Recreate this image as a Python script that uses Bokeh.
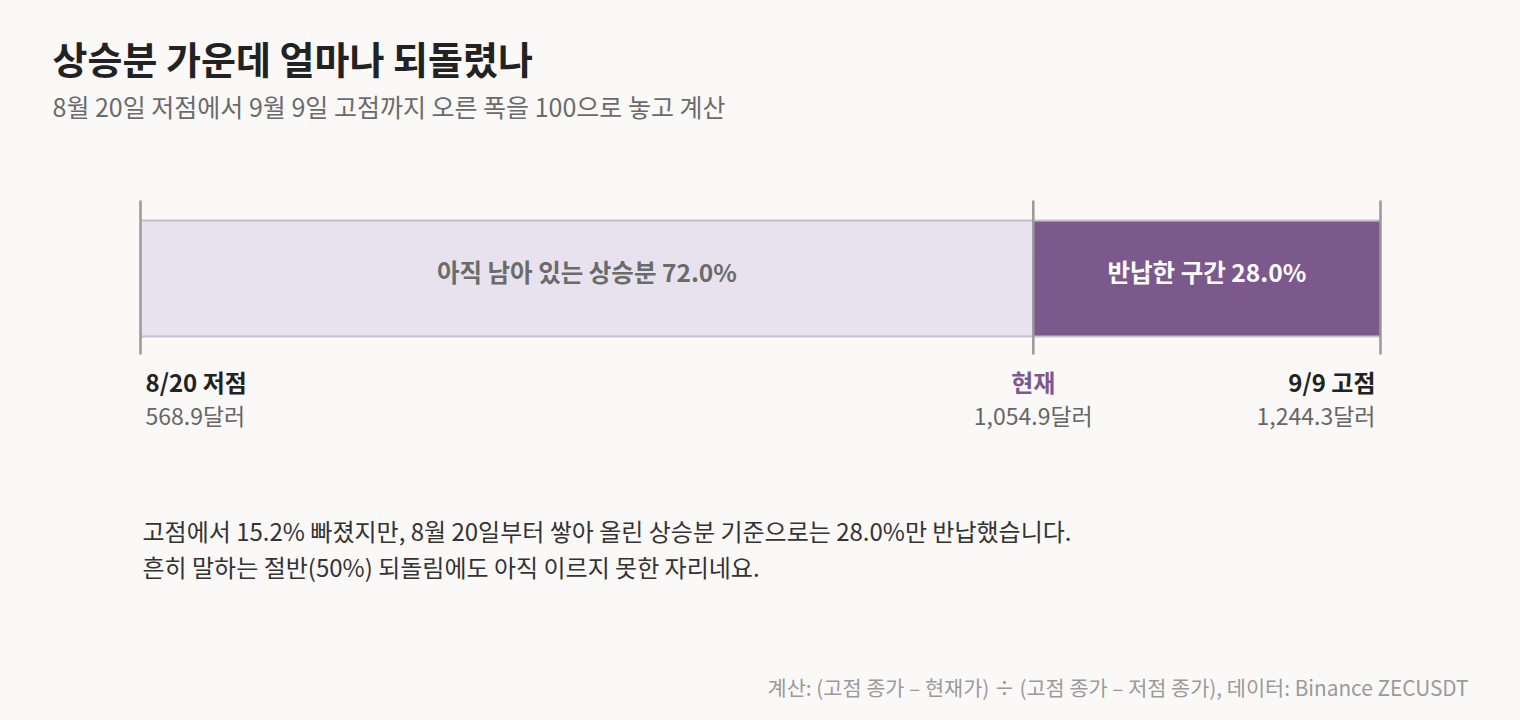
from bokeh.plotting import figure
from bokeh.models import Range1d, Label, ColumnDataSource
from bokeh.core.properties import value
from bokeh.embed import file_html
from bokeh.resources import INLINE

# ---- data ----
point_names = ["8/20 저점", "현재", "9/9 고점"]
point_prices = [568.9, 1054.9, 1244.3]
title_text = "상승분 가운데 얼마나 되돌렸나"
subtitle_text = "8월 20일 저점에서 9월 9일 고점까지 오른 폭을 100으로 놓고 계산"
footer_text = "계산: (고점 종가 – 현재가) ÷ (고점 종가 – 저점 종가), 데이터: Binance ZECUSDT"

low, cur, high = point_prices
retraced = round((high - cur) / (high - low) * 100, 1)
remaining = round(100 - retraced, 1)
drop_from_high = round((high - cur) / high * 100, 1)
segment_names = ["아직 남아 있는 상승분", "반납한 구간"]
segment_left = [0, remaining]
segment_right = [remaining, 100]
point_pos = [0, remaining, 100]

FONT = "Noto Sans CJK KR"
BG = "#faf9f7"
PURPLE = "#7c598d"
LIGHT = "#e7e2ed"

W, H = 1520, 720
# x: 0..100 maps to page px 140..1380 ; y: page px (flipped)
scale = 12.4
x0 = -140 / scale
p = figure(width=W, height=H, output_backend="svg", toolbar_location=None,
           x_range=Range1d(x0, x0 + W / scale), y_range=Range1d(H, 0),
           x_axis_type=None, y_axis_type=None, min_border=0)
p.grid.visible = False
p.outline_line_color = None
p.background_fill_color = BG
p.border_fill_color = BG

src = ColumnDataSource(dict(left=segment_left, right=segment_right,
                            color=[LIGHT, PURPLE],
                            label=[f"{segment_names[0]} {remaining:.1f}%",
                                   f"{segment_names[1]} {retraced:.1f}%"],
                            mid=[(a + b) / 2 for a, b in zip(segment_left, segment_right)],
                            tcolor=["#6b6b6b", "#ffffff"]))
p.hbar(y=278, height=116, left="left", right="right", fill_color="color",
       line_color=None, source=src)
# top / bottom borders
p.segment(x0=[0, 0], x1=[100, 100], y0=[220, 336], y1=[220, 336],
          line_color="#c6c1cb", line_width=2)
# tick lines
p.segment(x0=point_pos, x1=point_pos, y0=[200] * 3, y1=[354] * 3,
          line_color="#999999", line_width=2.5)

p.text(x="mid", y=271, text="label", text_color="tcolor", source=src,
       text_font=value(FONT), text_font_size="24.5px", text_font_style="bold",
       text_align="center", text_baseline="middle")

aligns = ["left", "center", "right"]
offs = [5 / scale, 0, -5 / scale]
name_colors = ["#222222", PURPLE, "#222222"]
for nm, pr, pos, al, off, nc in zip(point_names, point_prices, point_pos, aligns, offs, name_colors):
    p.add_layout(Label(x=pos + off, y=381, text=nm, text_font=FONT, text_font_size="24px",
                       text_font_style="bold", text_color=nc, text_align=al,
                       text_baseline="middle"))
    p.add_layout(Label(x=pos + off, y=414, text=f"{pr:,.1f}달러", text_font=FONT,
                       text_font_size="23px", text_color="#666666", text_align=al,
                       text_baseline="middle"))

def page_x(px):
    return x0 + px / scale

p.add_layout(Label(x=page_x(52), y=57, text=title_text, text_font=FONT, text_font_size="38px",
                   text_font_style="bold", text_color="#222222", text_baseline="middle"))
p.add_layout(Label(x=page_x(52), y=105, text=subtitle_text, text_font=FONT, text_font_size="25px",
                   text_color="#6b6b6b", text_baseline="middle"))

note1 = (f"고점에서 {drop_from_high:.1f}% 빠졌지만, 8월 20일부터 쌓아 올린 상승분 기준으로는 "
         f"{retraced:.1f}%만 반납했습니다.")
note2 = "흔히 말하는 절반(50%) 되돌림에도 아직 이르지 못한 자리네요."
for t, yy in zip([note1, note2], [530, 566]):
    p.add_layout(Label(x=page_x(142), y=yy, text=t, text_font=FONT, text_font_size="24px",
                       text_color="#333333", text_baseline="middle"))

p.add_layout(Label(x=page_x(1468), y=686, text=footer_text, text_font=FONT, text_font_size="20.8px",
                   text_color="#9a9a9a", text_align="right", text_baseline="middle"))

html = file_html(p, INLINE)
html = html.replace("</head>", f"<style>html,body{{margin:0;padding:0;background:{BG};overflow:hidden;}}</style></head>", 1)
open("out.html", "w").write(html)
